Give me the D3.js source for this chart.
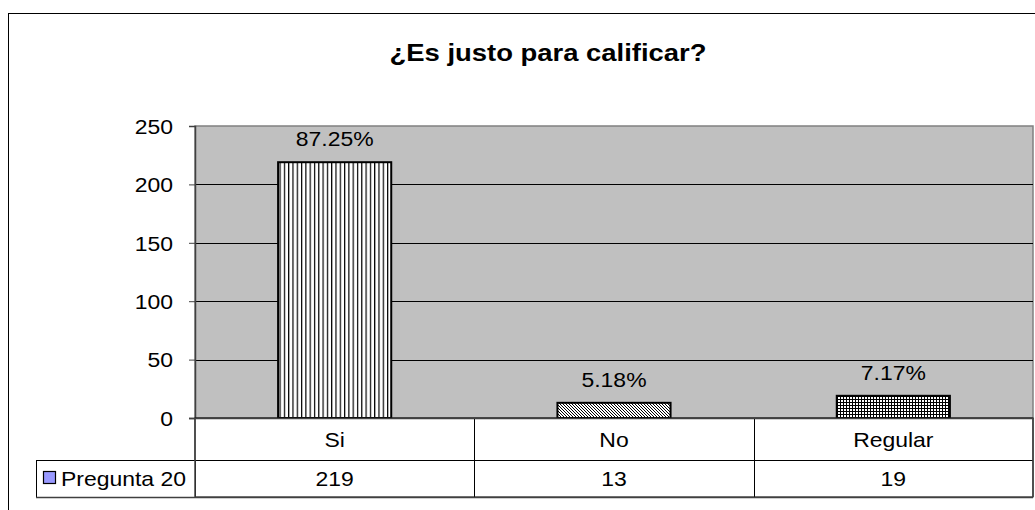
<!DOCTYPE html>
<html><head><meta charset="utf-8">
<script src="https://cdn.jsdelivr.net/npm/d3@7"></script>
<style>body{margin:0;background:#fff}svg{display:block;font-family:"Liberation Sans",Arial,sans-serif}</style>
</head><body><svg id="c" width="1035" height="510"></svg>
<script>
const title = "¿Es justo para calificar?";
const categories = ["Si", "No", "Regular"];
const values = [219, 13, 19];
const percentLabels = ["87.25%", "5.18%", "7.17%"];
const seriesName = "Pregunta 20";
const yTicks = [0, 50, 100, 150, 200, 250];
const patterns = ["pVert", "pDiag", "pGrid"];

const SX = 1.12; // horizontal stretch of the original rendering
const svg = d3.select("#c");
const defs = svg.append("defs");
const pv = defs.append("pattern").attr("id","pVert").attr("patternUnits","userSpaceOnUse").attr("width",4.3).attr("height",4);
pv.append("rect").attr("width",4.3).attr("height",4).attr("fill","#fff");
pv.append("rect").attr("x",0).attr("width",1.2).attr("height",4).attr("fill","#000");
const pd = defs.append("pattern").attr("id","pDiag").attr("patternUnits","userSpaceOnUse").attr("width",3).attr("height",3);
pd.append("rect").attr("width",3).attr("height",3).attr("fill","#fff");
pd.append("path").attr("d","M-1,-1 L4,4 M-1,2 L1,4 M2,-1 L4,1").attr("stroke","#000").attr("stroke-width",1);
const pg = defs.append("pattern").attr("id","pGrid").attr("patternUnits","userSpaceOnUse").attr("width",3).attr("height",3);
pg.append("rect").attr("width",3).attr("height",3).attr("fill","#fff");
pg.append("rect").attr("width",3).attr("height",1).attr("fill","#000");
pg.append("rect").attr("width",1).attr("height",3).attr("fill","#000");

function txt(parent, x, y, s, size, anchor, bold) {
  return parent.append("text").attr("transform",`translate(${x},${y}) scale(${SX},1)`)
    .attr("text-anchor",anchor||"middle").attr("font-size",size).attr("fill","#000")
    .attr("font-weight",bold?"bold":"normal").text(s);
}

svg.append("rect").attr("x",8.5).attr("y",13.5).attr("width",1100).attr("height",600)
  .attr("fill","#fff").attr("stroke","#000").attr("stroke-width",1);

const plotL = 195, plotR = 1033, plotT = 126, plotB = 418;
const x = d3.scaleBand().domain(categories).range([plotL, plotR]).paddingInner(0).paddingOuter(0);
const y = d3.scaleLinear().domain([0, 250]).range([plotB, plotT]);

txt(svg, 548, 61, title, 24.5, "middle", true);

svg.append("rect").attr("x",plotL).attr("y",plotT).attr("width",plotR-plotL).attr("height",plotB-plotT)
  .attr("fill","#C0C0C0").attr("stroke","#808080").attr("stroke-width",1.5);

svg.append("g").selectAll("line").data(yTicks.filter(d=>d>0 && d<250)).join("line")
  .attr("x1",plotL).attr("x2",plotR).attr("y1",d=>Math.round(y(d))+0.5).attr("y2",d=>Math.round(y(d))+0.5)
  .attr("stroke","#000").attr("stroke-width",1);

const yAxis = svg.append("g").attr("transform",`translate(${plotL},0)`)
  .call(d3.axisLeft(y).tickValues(yTicks).tickSize(6).tickPadding(16).tickFormat(d3.format("d")));
yAxis.select(".domain").attr("stroke","#404040").attr("stroke-width",1.5);
yAxis.selectAll(".tick line").attr("stroke","#404040");
yAxis.selectAll(".tick text").attr("font-size",20.5).attr("fill","#000")
  .attr("font-family","Liberation Sans, Arial, sans-serif")
  .attr("x",0).attr("dy","0.36em").attr("transform",`translate(-22,0) scale(${SX},1)`);

const bw = x.bandwidth()*0.405;
svg.append("g").selectAll("rect").data(categories).join("rect")
  .attr("x",(d)=>x(d)+x.bandwidth()/2-bw/2).attr("width",bw)
  .attr("y",(d,i)=>y(values[i])).attr("height",(d,i)=>y(0)-y(values[i]))
  .attr("fill",(d,i)=>`url(#${patterns[i]})`).attr("stroke","#000").attr("stroke-width",2);

const lab = svg.append("g");
categories.forEach((d,i)=>txt(lab, x(d)+x.bandwidth()/2, y(values[i])-16, percentLabels[i], 20.5));

const row1T = plotB, row1B = 460, row2B = 497, legL = 36;
const tbl = svg.append("g").attr("stroke","#000").attr("stroke-width",1).attr("fill","none");
tbl.append("rect").attr("x",plotL).attr("y",row1T).attr("width",plotR-plotL).attr("height",row2B-row1T).attr("fill","#fff");
tbl.append("rect").attr("x",legL+0.5).attr("y",row1B+0.5).attr("width",plotL-legL).attr("height",row2B-row1B).attr("fill","#fff");
tbl.append("line").attr("x1",plotL).attr("x2",plotR).attr("y1",row1B+0.5).attr("y2",row1B+0.5);
tbl.selectAll("line.v").data(categories.slice(1)).join("line").attr("class","v")
  .attr("x1",d=>Math.round(x(d))+0.5).attr("x2",d=>Math.round(x(d))+0.5).attr("y1",row1T).attr("y2",row2B);
tbl.append("line").attr("x1",plotL).attr("x2",plotL).attr("y1",row1T).attr("y2",row2B).attr("stroke","#404040").attr("stroke-width",1.5);
tbl.append("line").attr("x1",plotR).attr("x2",plotR).attr("y1",row1T).attr("y2",row2B).attr("stroke","#404040").attr("stroke-width",1.5);
tbl.append("line").attr("x1",legL).attr("x2",plotR).attr("y1",row2B+0.5).attr("y2",row2B+0.5).attr("stroke","#404040").attr("stroke-width",1.5);
svg.append("line").attr("x1",plotL-6).attr("x2",plotR).attr("y1",plotB+0.5).attr("y2",plotB+0.5).attr("stroke","#404040").attr("stroke-width",1.5);

const tt = svg.append("g");
categories.forEach((d,i)=>{
  txt(tt, x(d)+x.bandwidth()/2, 447, d, 20.5);
  txt(tt, x(d)+x.bandwidth()/2, 486, String(values[i]), 20.5);
});

svg.append("rect").attr("x",43.5).attr("y",471.5).attr("width",12).attr("height",12)
  .attr("fill","#9999FF").attr("stroke","#000").attr("stroke-width",1.2);
txt(svg, 61, 486, seriesName, 20.5, "start");
</script></body></html>
